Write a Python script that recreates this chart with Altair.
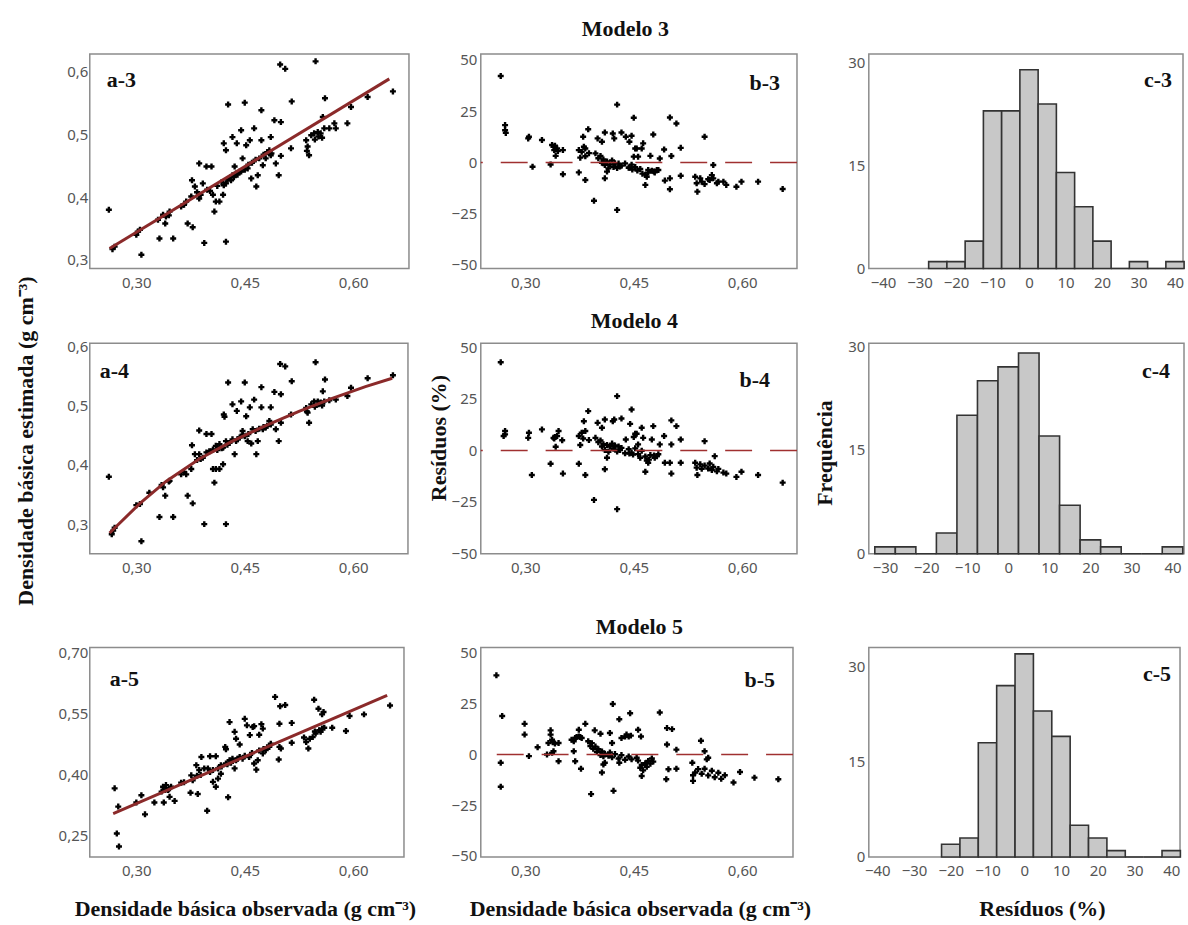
import altair as alt
import pandas as pd

# ---------------- a-3 : estimated vs observed density (Modelo 3) ----------------
a3_x = [0.262,0.267,0.270,0.307,0.302,0.305,0.332,0.351,0.340,0.337,
        0.346,0.341,0.371,0.378,0.369,0.376,0.377,0.381,0.387,0.397,
        0.404,0.392,0.387,0.406,0.410,0.415,0.408,0.394,0.424,0.420,
        0.424,0.429,0.433,0.438,0.443,0.421,0.424,0.427,0.433,0.439,
        0.445,0.452,0.457,0.463,0.473,0.486,0.450,0.473,0.436,0.447,
        0.454,0.459,0.466,0.468,0.475,0.479,0.484,0.486,0.491,0.500,
        0.493,0.497,0.500,0.499,0.506,0.515,0.514,0.548,0.561,0.558,
        0.535,0.537,0.539,0.542,0.546,0.551,0.555,0.560,0.567,0.576,
        0.574,0.592,0.597,0.620,0.655,0.384,0.389,0.398,0.402,0.412,
        0.418,0.421,0.426,0.431,0.435,0.440,0.445,0.450,0.455,0.460,
        0.465,0.470,0.476,0.481,0.487,0.330,0.345,0.300,0.362,0.366,
        0.547,0.552,0.557,0.536]
a3_y = [0.380,0.317,0.321,0.308,0.345,0.348,0.334,0.334,0.358,0.372,
        0.377,0.369,0.358,0.352,0.393,0.401,0.427,0.417,0.454,0.449,
        0.449,0.422,0.398,0.404,0.393,0.393,0.377,0.327,0.329,0.404,
        0.422,0.430,0.435,0.438,0.441,0.486,0.475,0.548,0.496,0.486,
        0.507,0.483,0.491,0.510,0.491,0.496,0.551,0.539,0.449,0.462,
        0.446,0.430,0.417,0.435,0.451,0.462,0.475,0.467,0.523,0.520,
        0.454,0.435,0.466,0.612,0.605,0.553,0.478,0.617,0.558,0.528,
        0.491,0.481,0.467,0.499,0.502,0.504,0.502,0.510,0.510,0.510,
        0.518,0.518,0.544,0.560,0.569,0.408,0.404,0.412,0.410,0.418,
        0.424,0.419,0.428,0.427,0.432,0.436,0.441,0.444,0.452,0.455,
        0.460,0.462,0.468,0.472,0.470,0.364,0.371,0.340,0.385,0.388,
        0.492,0.497,0.495,0.474]
a3_fit_x = [0.263, 0.650]
a3_fit_y = [0.318, 0.589]

# ---------------- a-4 (Modelo 4) ----------------
a4_x = [0.262,0.268,0.270,0.266,0.307,0.305,0.318,0.332,0.340,0.351,
        0.346,0.337,0.371,0.378,0.369,0.376,0.377,0.381,0.387,0.397,
        0.404,0.394,0.424,0.408,0.406,0.410,0.415,0.420,0.387,0.392,
        0.397,0.401,0.406,0.410,0.415,0.420,0.424,0.429,0.433,0.438,
        0.443,0.447,0.421,0.422,0.427,0.433,0.439,0.445,0.452,0.457,
        0.463,0.473,0.486,0.450,0.473,0.436,0.447,0.454,0.459,0.466,
        0.468,0.475,0.479,0.484,0.486,0.461,0.491,0.500,0.493,0.497,
        0.500,0.499,0.506,0.515,0.514,0.548,0.561,0.558,0.535,0.537,
        0.539,0.542,0.546,0.551,0.555,0.560,0.567,0.576,0.592,0.597,
        0.620,0.655,0.300,0.335,0.345,0.362,0.366,0.384,0.389,0.412,
        0.418,0.426,0.440,0.450,0.455,0.465,0.470,0.476,0.481,0.547,
        0.552,0.557,0.536]
a4_y = [0.380,0.289,0.294,0.283,0.271,0.334,0.353,0.312,0.348,0.312,
        0.373,0.362,0.348,0.335,0.384,0.393,0.433,0.418,0.458,0.452,
        0.452,0.300,0.300,0.370,0.393,0.393,0.393,0.401,0.418,0.412,
        0.421,0.423,0.426,0.432,0.435,0.429,0.440,0.437,0.443,0.440,
        0.446,0.451,0.485,0.481,0.539,0.502,0.491,0.507,0.482,0.497,
        0.510,0.497,0.497,0.539,0.531,0.418,0.457,0.440,0.436,0.418,
        0.440,0.460,0.463,0.474,0.468,0.460,0.523,0.519,0.460,0.440,
        0.471,0.570,0.566,0.541,0.485,0.573,0.544,0.524,0.496,0.488,
        0.471,0.502,0.507,0.507,0.505,0.507,0.509,0.510,0.516,0.530,
        0.546,0.551,0.332,0.366,0.372,0.384,0.388,0.408,0.410,0.425,
        0.428,0.434,0.443,0.448,0.452,0.457,0.461,0.464,0.466,0.498,
        0.502,0.500,0.490]
a4_fit_x = [0.263,0.305,0.341,0.387,0.433,0.479,0.525,0.571,0.617,0.654]
a4_fit_y = [0.285,0.335,0.372,0.410,0.440,0.466,0.490,0.512,0.532,0.546]

# ---------------- a-5 (Modelo 5) ----------------
a5_x = [0.270,0.273,0.276,0.275,0.307,0.312,0.325,0.338,0.341,0.344,
        0.346,0.353,0.337,0.348,0.375,0.385,0.378,0.376,0.383,0.390,
        0.402,0.410,0.398,0.427,0.406,0.410,0.413,0.417,0.387,0.394,
        0.399,0.406,0.413,0.417,0.424,0.429,0.433,0.438,0.443,0.423,
        0.424,0.429,0.436,0.438,0.443,0.450,0.453,0.457,0.461,0.463,
        0.473,0.475,0.470,0.436,0.447,0.456,0.463,0.466,0.468,0.475,
        0.479,0.484,0.486,0.492,0.499,0.506,0.498,0.498,0.497,0.500,
        0.515,0.515,0.546,0.552,0.557,0.559,0.532,0.535,0.538,0.540,
        0.544,0.548,0.553,0.555,0.560,0.571,0.590,0.595,0.615,0.651,
        0.300,0.335,0.340,0.345,0.362,0.366,0.384,0.389,0.402,0.418,
        0.426,0.431,0.440,0.450,0.460,0.470,0.476,0.481,0.547,0.557]
a5_y = [0.365,0.254,0.222,0.320,0.348,0.301,0.330,0.330,0.373,0.361,
        0.344,0.334,0.369,0.369,0.354,0.351,0.385,0.397,0.422,0.442,
        0.444,0.444,0.310,0.343,0.381,0.369,0.389,0.401,0.410,0.414,
        0.414,0.410,0.414,0.422,0.426,0.434,0.438,0.434,0.442,0.467,
        0.461,0.528,0.504,0.487,0.473,0.536,0.520,0.496,0.516,0.518,
        0.523,0.512,0.497,0.414,0.438,0.442,0.426,0.411,0.434,0.451,
        0.459,0.467,0.475,0.590,0.567,0.570,0.524,0.467,0.436,0.463,
        0.526,0.477,0.583,0.561,0.547,0.553,0.490,0.479,0.463,0.487,
        0.491,0.500,0.508,0.504,0.514,0.514,0.506,0.543,0.547,0.569,
        0.330,0.357,0.361,0.364,0.379,0.380,0.396,0.398,0.405,0.419,
        0.424,0.428,0.438,0.445,0.452,0.458,0.462,0.466,0.505,0.512]
a5_fit_x = [0.268, 0.647]
a5_fit_y = [0.303, 0.594]

# ---------------- b-3 : residuals (%) ----------------
b3_x = [0.266,0.272,0.272,0.273,0.305,0.304,0.310,0.323,0.335,0.339,
        0.341,0.344,0.340,0.345,0.342,0.352,0.352,0.374,0.376,0.378,
        0.381,0.383,0.380,0.387,0.374,0.383,0.395,0.397,0.401,0.404,
        0.406,0.408,0.410,0.413,0.415,0.417,0.420,0.422,0.424,0.427,
        0.429,0.431,0.433,0.438,0.443,0.447,0.452,0.400,0.406,0.410,
        0.413,0.410,0.421,0.423,0.427,0.427,0.433,0.439,0.444,0.447,
        0.450,0.452,0.454,0.456,0.459,0.461,0.463,0.466,0.468,0.470,
        0.473,0.475,0.477,0.479,0.482,0.484,0.486,0.450,0.500,0.509,
        0.493,0.500,0.500,0.502,0.492,0.515,0.515,0.548,0.560,0.535,
        0.537,0.538,0.542,0.544,0.548,0.553,0.555,0.558,0.560,0.565,
        0.567,0.574,0.578,0.592,0.599,0.622,0.656,0.444,0.448,0.455,
        0.462,0.466,0.470,0.478,0.383,0.388,0.337]
b3_y = [42.2,18.2,15.7,14.4,12.5,11.7,-2.1,10.9,-1.0,7.6,
        8.1,6.8,6.0,5.5,3.2,6.0,-5.8,6.0,2.3,5.2,
        7.6,6.8,12.5,16.2,-4.9,-8.6,-18.7,4.4,2.0,3.1,
        -0.2,1.4,-1.3,0.4,-2.9,-1.0,0.9,-2.2,-0.4,-2.8,
        -0.6,-2.0,-1.6,-0.5,-2.6,-1.1,-2.3,11.7,10.1,14.6,
        -4.5,-7.8,14.1,11.7,28.2,-23.2,14.6,12.5,10.1,13.0,
        2.8,6.8,6.8,2.8,-3.2,6.8,9.3,-11.0,-7.0,-3.7,
        3.2,-4.1,13.6,-4.9,-3.7,-3.7,1.9,21.8,21.9,19.0,
        -8.9,-13.1,-7.8,3.1,6.3,7.1,-6.5,12.5,-1.3,-7.0,
        -10.2,-14.3,-7.8,-9.4,-10.6,-8.2,-8.6,-6.2,-7.8,-10.2,
        -9.4,-9.4,-11.0,-11.9,-9.4,-9.4,-13.0,-2.5,-3.5,-4.0,
        -5.5,-6.0,-5.0,-4.5,3.0,4.5,8.5]

# ---------------- b-4 ----------------
b4_x = [0.266,0.272,0.272,0.270,0.305,0.304,0.309,0.323,0.335,0.339,
        0.341,0.344,0.340,0.346,0.342,0.351,0.352,0.374,0.376,0.378,
        0.381,0.383,0.380,0.387,0.374,0.383,0.395,0.397,0.401,0.404,
        0.406,0.408,0.410,0.413,0.415,0.417,0.420,0.422,0.424,0.427,
        0.429,0.431,0.433,0.438,0.443,0.447,0.452,0.456,0.461,0.400,
        0.406,0.410,0.413,0.410,0.421,0.423,0.427,0.427,0.433,0.439,
        0.445,0.447,0.450,0.452,0.454,0.456,0.459,0.461,0.463,0.466,
        0.468,0.470,0.473,0.475,0.477,0.479,0.482,0.484,0.486,0.502,
        0.509,0.493,0.500,0.502,0.502,0.492,0.515,0.515,0.548,0.562,
        0.535,0.537,0.538,0.542,0.544,0.548,0.553,0.555,0.558,0.560,
        0.565,0.567,0.574,0.578,0.592,0.599,0.622,0.656,0.444,0.449,
        0.466,0.471,0.478,0.388]
b4_y = [42.9,9.4,7.8,7.0,8.6,6.1,-12.0,10.2,-6.5,6.1,
        6.5,7.0,5.8,9.4,1.8,4.9,-11.3,7.0,2.6,8.6,
        14.2,9.4,5.8,19.1,-6.5,-12.0,-24.1,6.1,4.0,4.8,
        1.9,3.0,0.2,2.6,-0.7,1.9,3.3,0.8,2.4,-0.6,
        1.9,0.2,1.2,-1.4,0.6,-1.2,1.0,-1.8,-0.2,13.4,
        11.0,15.0,-3.6,-9.2,14.2,15.0,26.4,-28.6,15.5,5.3,
        12.9,19.9,6.5,8.1,8.1,2.9,-3.6,11.0,6.1,-10.4,
        -4.9,-6.0,-2.3,5.3,11.8,-3.6,-2.8,-1.9,2.9,14.6,
        11.8,-6.0,-6.0,-11.3,2.9,7.0,5.3,-6.0,4.5,-2.8,
        -6.0,-8.4,-12.0,-6.8,-9.0,-7.4,-8.8,-6.4,-9.6,-8.0,
        -10.2,-9.0,-10.8,-11.3,-12.9,-10.4,-12.0,-15.7,-1.5,-2.0,
        -3.0,-4.5,-2.5,5.0]

# ---------------- b-5 ----------------
b5_x = [0.260,0.268,0.266,0.266,0.299,0.299,0.305,0.317,0.330,0.335,
        0.335,0.337,0.332,0.338,0.341,0.346,0.339,0.337,0.346,0.364,
        0.367,0.369,0.371,0.374,0.376,0.378,0.383,0.374,0.367,0.369,
        0.377,0.391,0.387,0.390,0.392,0.394,0.397,0.399,0.401,0.404,
        0.406,0.408,0.410,0.415,0.417,0.420,0.424,0.429,0.433,0.438,
        0.443,0.447,0.396,0.404,0.406,0.408,0.410,0.417,0.420,0.422,
        0.421,0.430,0.430,0.445,0.433,0.438,0.440,0.443,0.446,0.456,
        0.460,0.454,0.456,0.459,0.461,0.463,0.466,0.468,0.470,0.473,
        0.475,0.477,0.461,0.486,0.496,0.503,0.496,0.498,0.495,0.509,
        0.509,0.531,0.532,0.532,0.543,0.548,0.551,0.553,0.535,0.539,
        0.544,0.548,0.553,0.558,0.562,0.567,0.571,0.576,0.588,0.597,
        0.617,0.650]
b5_y = [39.0,19.0,-4.1,-15.9,15.1,9.8,-0.8,3.6,0.0,11.9,
        9.8,7.3,5.7,6.0,5.4,5.7,1.6,0.8,-3.3,7.3,
        6.5,8.1,8.6,8.9,8.6,8.1,15.1,12.2,1.6,-3.3,
        -7.0,-19.5,6.5,4.2,5.6,2.8,3.9,1.2,2.6,-0.3,
        1.5,-0.9,0.4,-0.6,1.0,-1.4,0.2,-2.0,-0.3,-2.6,
        -1.0,-2.4,11.9,10.2,-8.9,-4.9,-4.1,10.6,5.7,-17.9,
        24.9,17.4,-4.1,20.3,8.1,8.9,9.8,8.9,9.3,12.2,
        8.9,-1.6,-3.0,-6.5,-5.2,-7.8,-4.3,-6.0,-3.2,-4.5,
        -2.0,-3.5,-10.6,20.7,13.0,12.5,4.9,-7.3,-12.2,2.4,
        -7.0,-4.1,-10.2,-13.0,6.8,1.6,-2.4,-1.6,-8.9,-7.2,
        -9.5,-7.0,-10.3,-8.0,-11.2,-9.0,-12.0,-10.2,-13.8,-8.6,
        -11.4,-12.2]

# ---------------- c : residual histograms (bin centre, frequency) ----------------
c3_bins = [-25, -20, -15, -10, -5, 0, 5, 10, 15, 20, 25, 30, 35, 40]
c3_counts = [1, 1, 4, 23, 23, 29, 24, 14, 9, 4, 0, 1, 0, 1]
c4_bins = [-30, -25, -20, -15, -10, -5, 0, 5, 10, 15, 20, 25, 30, 35, 40]
c4_counts = [1, 1, 0, 3, 20, 25, 27, 29, 17, 7, 2, 1, 0, 0, 1]
c5_bins = [-20, -15, -10, -5, 0, 5, 10, 15, 20, 25, 30, 35, 40]
c5_counts = [2, 3, 18, 27, 32, 23, 19, 5, 3, 1, 0, 0, 1]

# ---------------- texts ----------------
panel_labels = ["a-3", "b-3", "c-3", "a-4", "b-4", "c-4", "a-5", "b-5", "c-5"]
model_titles = ["Modelo 3", "Modelo 4", "Modelo 5"]
y_title_a = "Densidade básica estimada (g cm⁻³)"
y_title_b = "Resíduos (%)"
y_title_c = "Frequência"
x_title_ab = "Densidade básica observada (g cm⁻³)"
x_title_c = "Resíduos (%)"

SERIF = "Liberation Serif"
SANS = "Noto Sans"
FIT = "#8b2a2a"
ZERO = "#a03030"
DENS_TICKS = [0.30, 0.45, 0.60]


def comma(fmt):
    return f"replace(format(datum.value, '{fmt}'), '.', ',')"


def txt(t, x, y, align="left", angle=0, baseline="alphabetic", size=22):
    return alt.Chart(pd.DataFrame({"t": [t]})).mark_text(
        align=align, baseline=baseline, angle=angle, font=SERIF,
        fontWeight="bold", fontSize=size, color="#111111"
    ).encode(text="t:N", x=alt.value(x), y=alt.value(y))


def scatter(xs, ys, xdom, ydom, yvals, yfmt, ypad, w, h, base_layers, texts):
    df = pd.DataFrame({"x": xs, "y": ys})
    pts = alt.Chart(df).mark_point(
        shape="cross", filled=True, size=36, color="black", opacity=1
    ).encode(
        x=alt.X("x:Q", scale=alt.Scale(domain=xdom, nice=False, zero=False),
                axis=alt.Axis(values=DENS_TICKS, labelExpr=comma(".2f"),
                              labelPadding=7, title=None)),
        y=alt.Y("y:Q", scale=alt.Scale(domain=ydom, nice=False, zero=False),
                axis=alt.Axis(values=yvals, labelExpr=yfmt,
                              labelPadding=ypad, title=None)),
    )
    layers = [pts] + base_layers + texts
    return alt.layer(*layers).properties(width=w, height=h)


def fit_line(xs, ys):
    return alt.Chart(pd.DataFrame({"x": xs, "y": ys})).mark_line(
        color=FIT, strokeWidth=3
    ).encode(x="x:Q", y="y:Q")


def zero_rule():
    return alt.Chart(pd.DataFrame({"y": [0]})).mark_rule(
        color=ZERO, strokeWidth=1.5, strokeDash=[27, 18]
    ).encode(y="y:Q")


def hist(bins, counts, xdom, ydom, xvals, w, h, texts):
    df = pd.DataFrame({"c": bins, "n": counts})
    bars = alt.Chart(df).transform_calculate(
        x0="datum.c - 2.5", x1="datum.c + 2.5", base="0"
    ).mark_rect(fill="#c8c8c8", stroke="#333333", strokeWidth=1.6).encode(
        x=alt.X("x0:Q", scale=alt.Scale(domain=xdom, nice=False, zero=False),
                axis=alt.Axis(values=xvals, labelPadding=7, title=None)),
        x2="x1:Q",
        y=alt.Y("n:Q", scale=alt.Scale(domain=ydom, nice=False),
                axis=alt.Axis(values=[0, 15, 30], labelPadding=4, title=None)),
        y2="base:Q",
    )
    return alt.layer(bars, *texts).properties(width=w, height=h)


def spacer(h):
    return alt.Chart(pd.DataFrame({"v": [0]})).mark_point(opacity=0).encode(
        x=alt.value(0), y=alt.value(0)
    ).properties(width=1, height=h, view=alt.ViewBackground(stroke="transparent"))


A_FMT1 = comma(".1f")
A_FMT2 = comma(".2f")
B_FMT = "format(datum.value, 'd')"
B_TICKS = [-50, -25, 0, 25, 50]

# ---- row 1 ----
a3 = scatter(a3_x, a3_y, [0.2356, 0.6772], [0.2861, 0.6287], [0.3, 0.4, 0.5, 0.6],
             A_FMT1, 2, 320, 215, [fit_line(a3_fit_x, a3_fit_y)],
             [txt(panel_labels[0], 17, 33)])
b3 = scatter(b3_x, b3_y, [0.2384, 0.6758], [-51.8, 52.9], B_TICKS, B_FMT, 4, 317, 215,
             [zero_rule()],
             [txt(panel_labels[1], 300, 36, align="right"),
              txt(model_titles[0], 145, -18, align="center")])
c3 = hist(c3_bins, c3_counts, [-43.9, 42.2], [0, 31.3],
          [-40, -30, -20, -10, 0, 10, 20, 30, 40], 315, 215,
          [txt(panel_labels[2], 304, 33, align="right")])

# ---- row 2 ----
a4 = scatter(a4_x, a4_y, [0.2356, 0.6758], [0.250, 0.605], [0.3, 0.4, 0.5, 0.6],
             A_FMT1, 2, 319, 211, [fit_line(a4_fit_x, a4_fit_y)],
             [txt(panel_labels[3], 10, 35),
              txt(y_title_a, -64, 98, align="center", angle=270, baseline="middle")])
b4 = scatter(b4_x, b4_y, [0.2384, 0.6758], [-50.3, 52.1], B_TICKS, B_FMT, 4, 317, 211,
             [zero_rule()],
             [txt(panel_labels[4], 290, 44, align="right"),
              txt(model_titles[1], 154, -15, align="center"),
              txt(y_title_b, -42, 95, align="center", angle=270, baseline="middle")])
c4 = hist(c4_bins, c4_counts, [-33.96, 42.8], [0, 30.4],
          [-30, -20, -10, 0, 10, 20, 30, 40], 316, 211,
          [txt(panel_labels[5], 302, 35, align="right"),
           txt(y_title_c, -44, 110, align="center", angle=270, baseline="middle")])

# ---- row 3 ----
a5 = scatter(a5_x, a5_y, [0.2356, 0.6703], [0.196, 0.7115], [0.25, 0.40, 0.55, 0.70],
             A_FMT2, 2, 315, 210, [fit_line(a5_fit_x, a5_fit_y)],
             [txt(panel_labels[6], 20, 39),
              txt(x_title_ab, 156, 269, align="center")])
b5 = scatter(b5_x, b5_y, [0.2384, 0.6703], [-50.5, 52.7], B_TICKS, B_FMT, 4, 313, 210,
             [zero_rule()],
             [txt(panel_labels[7], 295, 40, align="right"),
              txt(model_titles[2], 159, -14, align="center"),
              txt(x_title_ab, 160, 269, align="center")])
c5 = hist(c5_bins, c5_counts, [-42.3, 42.4], [0, 33.0],
          [-40, -30, -20, -10, 0, 10, 20, 30, 40], 312, 210,
          [txt(panel_labels[8], 303, 34, align="right"),
           txt(x_title_c, 174, 269, align="center")])

chart = alt.concat(
    a3, b3, c3,
    spacer(75), spacer(75), spacer(75),
    a4, b4, c4,
    spacer(94), spacer(94), spacer(94),
    a5, b5, c5,
    columns=3,
    spacing={"row": 0, "column": 72},
    bounds="flush",
    align="each",
).configure_view(
    stroke="#8c8c8c", strokeWidth=1.5
).configure_axis(
    domain=False, ticks=False, grid=False,
    labelFont=SANS, labelFontSize=15, labelColor="#555555",
    labelFlush=False, labelOverlap=False
).properties(
    padding={"left": 14, "top": 16, "right": 2, "bottom": 2},
    background="white"
)

chart.save("out.html", embed_options={"renderer": "svg", "actions": False})
